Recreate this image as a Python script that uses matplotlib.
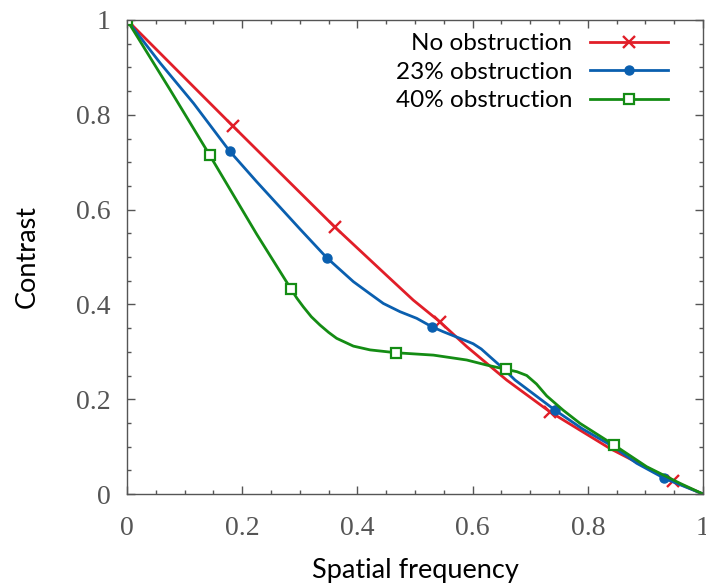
import matplotlib
matplotlib.use('Agg')
import matplotlib.pyplot as plt
from matplotlib.ticker import MultipleLocator, FormatStrFormatter

# values
nu_none = [0, 0.1157, 0.184, 0.3003, 0.361, 0.45, 0.497, 0.543, 0.590, 0.659,
           0.734, 0.8385, 0.948, 1.0]
c_none = [1.0, 0.859, 0.776, 0.636, 0.563, 0.462, 0.409, 0.3635, 0.3108, 0.2405,
          0.1736, 0.096, 0.027, 0.0]
mk_none = [0, 2, 4, 7, 10, 12]

nu_23 = [0, 0.058, 0.1157, 0.178, 0.225, 0.3003, 0.3467, 0.393, 0.42, 0.445,
         0.474, 0.503, 0.529, 0.549, 0.578, 0.601, 0.615, 0.630, 0.653, 0.6736,
         0.743, 0.79, 0.8443, 0.885, 0.933, 1.0]
c_23 = [1.0, 0.9086, 0.824, 0.7236, 0.659, 0.559, 0.4986, 0.448, 0.424, 0.402,
        0.3846, 0.3706, 0.353, 0.3424, 0.3284, 0.317, 0.306, 0.2897, 0.265, 0.2405,
        0.177, 0.138, 0.0998, 0.0647, 0.033, 0.0]
mk_23 = [0, 3, 6, 12, 20, 24]

nu_40 = [0, 0.0747, 0.1435, 0.2252, 0.2847, 0.295, 0.306, 0.32, 0.335, 0.35,
         0.364, 0.393, 0.422, 0.467, 0.532, 0.5898, 0.6245, 0.658, 0.677, 0.694,
         0.711, 0.7286, 0.757, 0.7865, 0.8455, 0.9022, 0.96, 1.0]
c_40 = [1.0, 0.853, 0.715, 0.548, 0.4325, 0.413, 0.395, 0.374, 0.3565, 0.341,
        0.3284, 0.312, 0.304, 0.298, 0.293, 0.2827, 0.272, 0.263, 0.258, 0.250,
        0.232, 0.207, 0.177, 0.149, 0.1034, 0.0576, 0.0226, 0.0]
mk_40 = [0, 2, 4, 13, 17, 24]

labels = ['No obstruction', '23% obstruction', '40% obstruction']

RED = '#e11e28'
BLUE = '#0a5faf'
GREEN = '#148c14'
GRAY = '#555555'

fig = plt.figure(figsize=(7.06, 5.84), dpi=100)
ax = fig.add_axes([127 / 706, 1 - 494 / 584, 576 / 706, 474 / 584])

ax.plot(nu_none, c_none, color=RED, lw=2.0, marker='x', ms=8.5, mew=1.7,
        markevery=mk_none, label=labels[0])
ax.plot(nu_23, c_23, color=BLUE, lw=2.0, marker='o', ms=6.5,
        markevery=mk_23, label=labels[1])
ax.plot(nu_40, c_40, color=GREEN, lw=2.0, marker='s', ms=7.5, mew=1.6,
        mfc='white', markevery=mk_40, label=labels[2])

ax.set_xlim(0, 1)
ax.set_ylim(0, 1)
ax.xaxis.set_major_locator(MultipleLocator(0.2))
ax.yaxis.set_major_locator(MultipleLocator(0.2))
ax.xaxis.set_minor_locator(MultipleLocator(0.05))
ax.yaxis.set_minor_locator(MultipleLocator(0.05))
ax.xaxis.set_major_formatter(FormatStrFormatter('%g'))
ax.yaxis.set_major_formatter(FormatStrFormatter('%g'))

ax.tick_params(which='both', direction='in', top=True, right=True, color=GRAY,
               width=1.0)
ax.tick_params(which='major', length=6)
ax.tick_params(which='minor', length=3.2)
ax.tick_params(axis='x', which='major', pad=16)
ax.tick_params(axis='y', which='major', pad=12)
for lab in ax.get_xticklabels() + ax.get_yticklabels():
    lab.set_fontfamily('Liberation Serif')
    lab.set_fontsize(20)
    lab.set_color(GRAY)
for sp in ax.spines.values():
    sp.set_color(GRAY)
    sp.set_linewidth(1.0)

ax.set_xlabel('Spatial frequency', fontfamily='Lato', fontsize=19.5, labelpad=12)
ax.set_ylabel('Contrast', fontfamily='Lato', fontsize=19.5, labelpad=26)

leg = ax.legend(loc='upper right', bbox_to_anchor=(0.939, 0.972), frameon=False,
                markerfirst=False, handlelength=3.2, handletextpad=0.74,
                labelspacing=0.31, borderpad=0, borderaxespad=0,
                prop={'family': 'Lato', 'size': 17.5})

fig.savefig('out.png', dpi=100)
